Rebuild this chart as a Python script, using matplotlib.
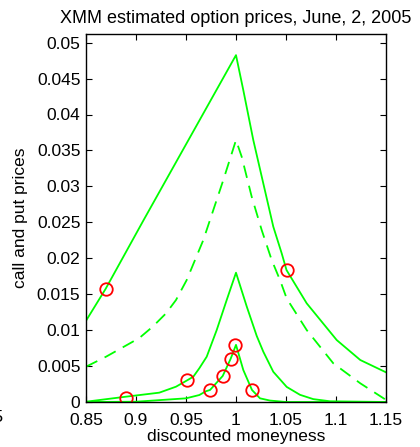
import matplotlib
matplotlib.use("Agg")
import matplotlib.pyplot as plt

plt.rcParams['font.family'] = ['Liberation Sans', 'DejaVu Sans']

# upper bound (solid)
upper_x = [0.85, 0.8697, 0.9076, 0.944, 1.0,
           1.0073, 1.0173, 1.0273, 1.0373, 1.0457, 1.0505, 1.0707, 1.1007, 1.1243, 1.15]
upper_y = [0.0113, 0.01576, 0.02531, 0.03435, 0.04826,
           0.04339, 0.03644, 0.03041, 0.02439, 0.02068, 0.01836, 0.01373, 0.00862, 0.00584, 0.00413]

# mid estimate (dashed)
dash_x = [0.85, 0.87, 0.8867, 0.9033, 0.9167, 0.93, 0.94, 0.9507, 0.9673, 0.9873, 1.0,
          1.0057, 1.0157, 1.0257, 1.0357, 1.044, 1.0507, 1.0707, 1.0973, 1.1243, 1.1476, 1.15]
dash_y = [0.00491, 0.0063, 0.0076, 0.0089, 0.01048, 0.01233, 0.01419, 0.01697, 0.02253, 0.03088, 0.03644,
          0.03412, 0.02856, 0.02392, 0.01975, 0.01697, 0.01440, 0.01001, 0.00538, 0.0026, 0.00051, 0.0003]

# middle solid
mid_x = [0.85, 0.89, 0.9233, 0.94, 0.9517, 0.9573, 0.9633, 0.9707, 0.9807, 0.9907, 1.0,
         1.0107, 1.0207, 1.0273, 1.0373, 1.0507, 1.064, 1.0773, 1.094, 1.15]
mid_y = [0.00004, 0.00074, 0.0013, 0.00213, 0.00306, 0.00352, 0.00469, 0.0063, 0.01001, 0.01419, 0.01799,
         0.0133, 0.0092, 0.0070, 0.0042, 0.0021, 0.0010, 0.0004, 0.0001, 0.0]

# lower bound (solid)
low_x = [0.85, 0.9, 0.95, 0.9633, 0.97, 0.974, 0.9867, 0.9947, 1.0,
         1.0073, 1.016, 1.024, 1.034, 1.05, 1.15]
low_y = [0.0, 0.00004, 0.00051, 0.00097, 0.00150, 0.00167, 0.00362, 0.00603, 0.00795,
         0.00445, 0.00167, 0.00051, 0.0002, 0.0, 0.0]

# observed prices
obs_x = [0.8697, 0.8897, 0.9512, 0.974, 0.9867, 0.9947, 0.9993, 1.016, 1.0505]
obs_y = [0.01576, 0.0006, 0.00306, 0.00167, 0.00362, 0.00603, 0.00788, 0.00167, 0.01836]

fig = plt.figure(figsize=(4.2, 4.47), dpi=100)
ax = fig.add_axes([86 / 420, 1 - 402 / 447, 300 / 420, 368 / 447])

green = (0, 1, 0)
ax.plot(upper_x, upper_y, color=green, lw=1.3)
ax.plot(dash_x, dash_y, color=green, lw=1.3, dashes=(7, 4.5))
ax.plot(mid_x, mid_y, color=green, lw=1.3)
ax.plot(low_x, low_y, color=green, lw=1.3)
ax.plot(obs_x, obs_y, 'o', mfc='none', mec='red', ms=9, mew=1.3)

ax.set_xlim(0.85, 1.15)
ax.set_ylim(0, 0.0512)
ax.set_xticks([0.85, 0.9, 0.95, 1.0, 1.05, 1.1, 1.15])
ax.set_xticklabels(['0.85', '0.9', '0.95', '1', '1.05', '1.1', '1.15'])
ax.set_yticks([0, 0.005, 0.01, 0.015, 0.02, 0.025, 0.03, 0.035, 0.04, 0.045, 0.05])
ax.set_yticklabels(['0', '0.005', '0.01', '0.015', '0.02', '0.025', '0.03', '0.035', '0.04', '0.045', '0.05'])
ax.tick_params(direction='in', top=True, right=True, length=4, width=0.8, labelsize=12.5)
ax.tick_params(axis='x', pad=8)
ax.tick_params(axis='y', pad=4)
for s in ax.spines.values():
    s.set_linewidth(1.0)

ax.set_title('XMM estimated option prices, June, 2, 2005', fontsize=13, pad=8)
ax.set_xlabel('discounted moneyness', fontsize=12.5, labelpad=1)
ax.set_ylabel('call and put prices', fontsize=12.5, labelpad=6)

# piece of neighbouring panel's tick label
fig.text(4 / 420, 1 - 418 / 447, '1.15', fontsize=12.5, ha='right', va='center')

fig.savefig('out.png', dpi=100)
